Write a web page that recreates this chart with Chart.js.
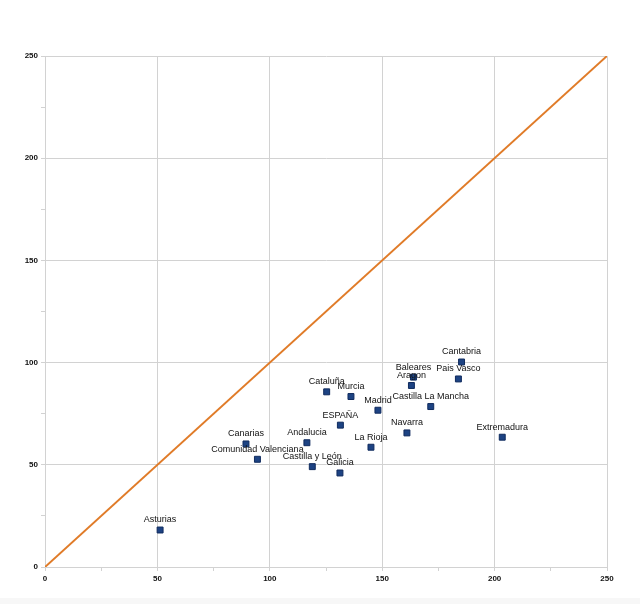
<!DOCTYPE html>
<html>
<head>
<meta charset="utf-8">
<script src="https://cdn.jsdelivr.net/npm/chart.js@4/dist/chart.umd.min.js"></script>
<style>
  html, body { margin: 0; padding: 0; }
  body { width: 640px; height: 604px; overflow: hidden;
         background: linear-gradient(#ffffff 598px, #f7f7f7 598px); }
  #grafico { display: block; }
</style>
</head>
<body>
<canvas id="grafico" width="640" height="604"></canvas>
<script>
const regiones = ['Asturias', 'Canarias', 'Comunidad Valenciana', 'Andalucia', 'Castilla y León',
  'Galicia', 'Cataluña', 'Murcia', 'ESPAÑA', 'Madrid', 'La Rioja', 'Navarra',
  'Castilla La Mancha', 'Aragon', 'Baleares', 'Pais Vasco', 'Cantabria', 'Extremadura'];
const valoresX = [51.2, 89.4, 94.5, 116.5, 118.9, 131.2, 125.3, 136.1, 131.4, 148.1, 145.0, 161.0,
  171.6, 163.0, 163.9, 183.9, 185.3, 203.4];
const valoresY = [18.1, 60.2, 52.7, 60.8, 49.1, 46.0, 85.7, 83.4, 69.4, 76.7, 58.6, 65.6,
  78.5, 88.8, 92.9, 92.0, 100.3, 63.5];
const diagonal = [0, 250];

const puntos = regiones.map((r, i) => ({ x: valoresX[i], y: valoresY[i] }));
const linea = diagonal.map(v => ({ x: v, y: v }));

// etiquetas encima de cada punto
const etiquetas = {
  id: 'etiquetas',
  afterDatasetsDraw(chart) {
    const meta = chart.getDatasetMeta(1);
    const ctx = chart.ctx;
    ctx.save();
    ctx.font = '9px "Liberation Sans", Arial, sans-serif';
    ctx.fillStyle = '#111';
    ctx.textAlign = 'center';
    ctx.textBaseline = 'middle';
    meta.data.forEach((el, i) => {
      ctx.fillText(regiones[i], el.x, el.y - 10);
    });
    ctx.restore();
  }
};

const gris = '#d2d2d2';
const ejes = {
  min: 0, max: 250,
  border: { color: gris, width: 1 },
  grid: {
    color: c => (c.tick && c.tick.value % 50 === 0) ? gris : 'rgba(0,0,0,0)',
    tickColor: gris,
    tickLength: 4,
    lineWidth: 1
  },
  ticks: {
    stepSize: 25,
    autoSkip: false,
    maxRotation: 0,
    padding: 3,
    color: '#111',
    font: { family: '"Liberation Sans", Arial, sans-serif', size: 8, weight: 'bold' },
    callback: v => v % 50 === 0 ? String(v) : ''
  }
};

new Chart(document.getElementById('grafico').getContext('2d'), {
  type: 'scatter',
  data: {
    datasets: [
      {
        type: 'line',
        data: linea,
        borderColor: '#e07b28',
        borderWidth: 2,
        pointRadius: 0,
        fill: false,
        order: 2
      },
      {
        data: puntos,
        pointStyle: 'rect',
        pointRadius: 4.2,
        backgroundColor: '#1d4383',
        borderColor: '#102b5e',
        borderWidth: 1,
        order: 1
      }
    ]
  },
  options: {
    responsive: false,
    animation: false,
    layout: { padding: { left: 0, top: 56, right: 33, bottom: 0 } },
    plugins: { legend: { display: false }, tooltip: { enabled: false } },
    scales: {
      x: Object.assign({}, ejes, {
        type: 'linear', position: 'bottom',
        afterFit: s => { s.height = 37; }
      }),
      y: Object.assign({}, ejes, {
        type: 'linear', position: 'left',
        afterFit: s => { s.width = 45; }
      })
    }
  },
  plugins: [etiquetas]
});
</script>
</body>
</html>
